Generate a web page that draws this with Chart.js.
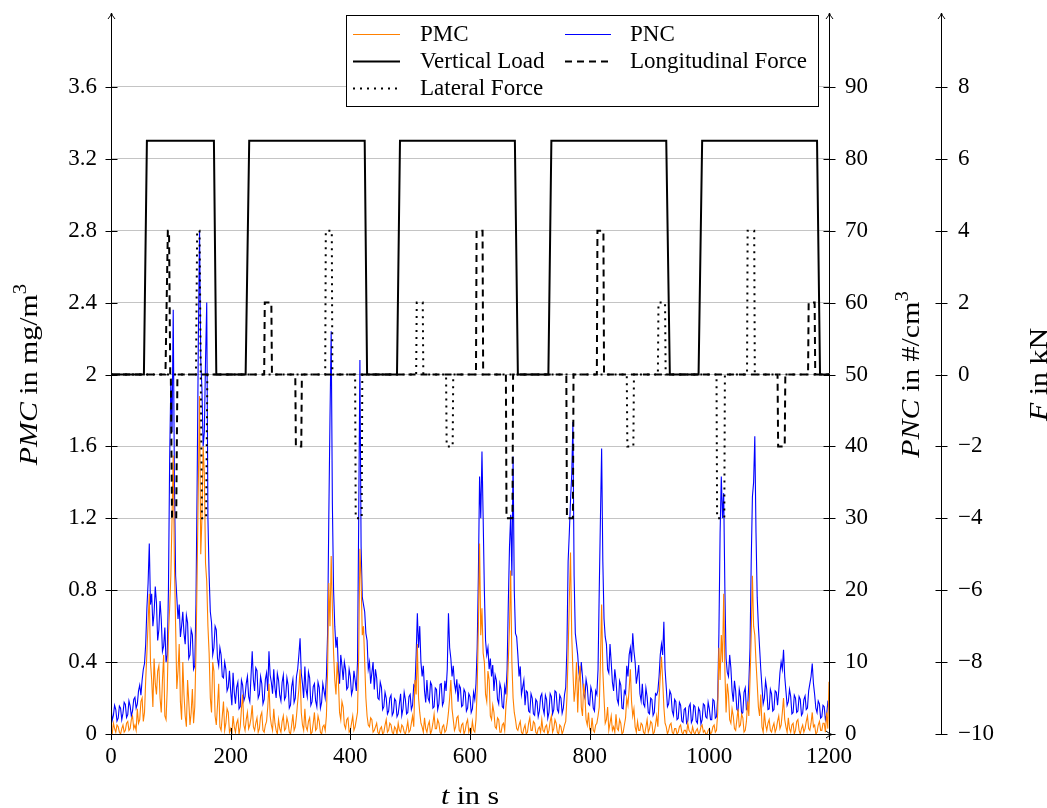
<!DOCTYPE html>
<html>
<head>
<meta charset="utf-8">
<script src="https://cdn.jsdelivr.net/npm/chart.js@4.4.1/dist/chart.umd.min.js"></script>
<style>
  html, body { margin: 0; padding: 0; background: #fff; }
  #wrap { width: 1047px; height: 808px; position: relative; }
</style>
</head>
<body>
<div id="wrap"><canvas id="c" width="1047" height="808"></canvas></div>
<script>
// Sampling interval of the particle measurements (s)
const STEP = 2;

// Particle mass concentration, mg/m^3, one value every STEP seconds from t = 0 (40 s per row)
const pmc = [
  0.02, 0.00, 0.06, 0.03, 0.01, 0.05, 0.04, 0.01, 0.00, 0.03, 0.05, 0.01, 0.02, 0.06, 0.07, 0.02, 0.03, 0.08, 0.10, 0.03,
  0.05, 0.02, 0.14, 0.06, 0.08, 0.18, 0.20, 0.07, 0.12, 0.30, 0.45, 0.62, 0.78, 0.40, 0.30, 0.15, 0.42, 0.28, 0.22, 0.35,
  0.38, 0.20, 0.12, 0.30, 0.44, 0.10, 0.08, 0.25, 0.55, 0.70, 0.88, 1.20, 1.55, 0.95, 0.60, 0.25, 0.35, 0.50, 0.18, 0.08,
  0.40, 0.22, 0.10, 0.04, 0.30, 0.18, 0.05, 0.12, 0.25, 0.06, 0.15, 0.45, 0.90, 1.40, 1.88, 1.00, 1.20, 1.60, 1.45, 0.95,
  0.85, 0.60, 0.45, 0.20, 0.12, 0.40, 0.35, 0.10, 0.05, 0.16, 0.28, 0.04, 0.02, 0.10, 0.18, 0.02, 0.06, 0.14, 0.12, 0.01,
  0.03, 0.00, 0.10, 0.04, 0.01, 0.06, 0.08, 0.00, 0.04, 0.14, 0.22, 0.05, 0.02, 0.08, 0.12, 0.03, 0.05, 0.09, 0.16, 0.04,
  0.02, 0.06, 0.09, 0.01, 0.03, 0.10, 0.12, 0.02, 0.01, 0.05, 0.07, 0.15, 0.28, 0.10, 0.05, 0.02, 0.14, 0.06, 0.02, 0.00,
  0.08, 0.03, 0.01, 0.07, 0.10, 0.02, 0.03, 0.09, 0.06, 0.01, 0.00, 0.05, 0.11, 0.02, 0.04, 0.10, 0.18, 0.25, 0.36, 0.12,
  0.05, 0.02, 0.14, 0.04, 0.02, 0.07, 0.09, 0.00, 0.01, 0.06, 0.12, 0.02, 0.03, 0.10, 0.07, 0.01, 0.00, 0.04, 0.05, 0.02,
  0.10, 0.35, 0.84, 0.60, 0.99, 0.70, 0.45, 0.30, 0.22, 0.40, 0.30, 0.12, 0.08, 0.18, 0.15, 0.05, 0.03, 0.08, 0.09, 0.01,
  0.02, 0.06, 0.10, 0.02, 0.04, 0.08, 0.12, 0.45, 1.03, 0.86, 0.55, 0.60, 0.40, 0.20, 0.10, 0.05, 0.04, 0.09, 0.08, 0.01,
  0.02, 0.04, 0.06, 0.01, 0.00, 0.03, 0.04, 0.00, 0.01, 0.05, 0.08, 0.01, 0.02, 0.06, 0.05, 0.01, 0.00, 0.04, 0.03, 0.00,
  0.06, 0.02, 0.01, 0.05, 0.04, 0.01, 0.00, 0.03, 0.07, 0.01, 0.02, 0.06, 0.10, 0.04, 0.30, 0.22, 0.50, 0.20, 0.12, 0.06,
  0.04, 0.01, 0.09, 0.03, 0.01, 0.05, 0.07, 0.00, 0.02, 0.06, 0.11, 0.03, 0.03, 0.08, 0.06, 0.01, 0.00, 0.04, 0.05, 0.01,
  0.02, 0.06, 0.12, 0.20, 0.30, 0.14, 0.08, 0.02, 0.04, 0.09, 0.10, 0.02, 0.01, 0.05, 0.06, 0.00, 0.02, 0.06, 0.08, 0.01,
  0.03, 0.01, 0.07, 0.02, 0.01, 0.08, 0.25, 0.60, 1.06, 0.55, 0.70, 0.45, 0.40, 0.22, 0.18, 0.35, 0.30, 0.10, 0.08, 0.16,
  0.12, 0.04, 0.03, 0.09, 0.08, 0.01, 0.01, 0.05, 0.06, 0.02, 0.15, 0.22, 0.40, 0.60, 0.91, 0.40, 0.20, 0.12, 0.08, 0.03,
  0.02, 0.05, 0.07, 0.01, 0.00, 0.03, 0.05, 0.00, 0.01, 0.06, 0.09, 0.02, 0.02, 0.07, 0.06, 0.01, 0.00, 0.03, 0.04, 0.01,
  0.08, 0.02, 0.01, 0.04, 0.05, 0.00, 0.02, 0.07, 0.10, 0.01, 0.03, 0.08, 0.06, 0.01, 0.00, 0.05, 0.04, 0.00, 0.02, 0.05,
  0.07, 0.20, 0.45, 0.75, 1.01, 0.55, 0.35, 0.18, 0.25, 0.40, 0.12, 0.30, 0.38, 0.15, 0.10, 0.28, 0.22, 0.08, 0.05, 0.12,
  0.03, 0.01, 0.09, 0.02, 0.01, 0.05, 0.06, 0.10, 0.15, 0.40, 0.72, 0.35, 0.20, 0.06, 0.08, 0.15, 0.02, 0.06, 0.10, 0.02,
  0.04, 0.01, 0.11, 0.03, 0.02, 0.08, 0.06, 0.00, 0.01, 0.05, 0.09, 0.20, 0.16, 0.25, 0.36, 0.18, 0.10, 0.14, 0.04, 0.01,
  0.07, 0.02, 0.02, 0.06, 0.05, 0.01, 0.00, 0.04, 0.08, 0.01, 0.03, 0.07, 0.06, 0.00, 0.01, 0.05, 0.10, 0.04, 0.20, 0.32,
  0.43, 0.30, 0.15, 0.06, 0.04, 0.00, 0.02, 0.05, 0.06, 0.01, 0.00, 0.03, 0.03, 0.00, 0.01, 0.04, 0.05, 0.01, 0.00, 0.02,
  0.02, 0.00, 0.06, 0.02, 0.01, 0.00, 0.04, 0.01, 0.00, 0.02, 0.03, 0.00, 0.01, 0.04, 0.05, 0.01, 0.02, 0.00, 0.00, 0.02,
  0.03, 0.00, 0.01, 0.04, 0.05, 0.01, 0.02, 0.12, 0.48, 0.30, 0.55, 0.40, 0.78, 0.35, 0.12, 0.28, 0.22, 0.08, 0.06, 0.14,
  0.10, 0.03, 0.02, 0.08, 0.14, 0.04, 0.05, 0.11, 0.09, 0.01, 0.02, 0.07, 0.18, 0.10, 0.30, 0.55, 0.88, 0.60, 0.55, 0.40,
  0.28, 0.15, 0.10, 0.22, 0.04, 0.01, 0.12, 0.05, 0.02, 0.06, 0.08, 0.02, 0.01, 0.04, 0.06, 0.01, 0.03, 0.07, 0.10, 0.03,
  0.05, 0.12, 0.20, 0.08, 0.04, 0.01, 0.09, 0.03, 0.01, 0.05, 0.06, 0.00, 0.02, 0.07, 0.08, 0.02, 0.00, 0.03, 0.05, 0.01,
  0.03, 0.07, 0.10, 0.03, 0.02, 0.06, 0.12, 0.04, 0.05, 0.00, 0.01, 0.05, 0.07, 0.02, 0.02, 0.06, 0.06, 0.01, 0.12, 0.03,
  0.29
];

// Particle number concentration, #/cm^3, same time base
const pnc = [
  3.8, 1.9, 2.6, 4.0, 3.4, 1.8, 2.2, 3.9, 3.6, 2.0, 2.9, 4.4, 4.1, 2.3, 2.7, 4.6, 3.9, 2.5, 3.2, 4.8,
  5.1, 3.6, 4.2, 6.0, 6.8, 5.4, 7.5, 9.0, 9.8, 12.5, 17.5, 21.0, 26.5, 18.0, 19.5, 15.0, 16.8, 20.5, 18.2, 13.0,
  14.5, 18.5, 16.0, 11.5, 12.2, 14.8, 10.0, 11.0, 20.0, 38.0, 49.0, 42.0, 59.0, 35.0, 22.0, 19.0, 16.0, 18.0, 13.5, 15.0,
  17.0, 14.0, 12.5, 16.5, 15.5, 10.5, 11.0, 14.5, 13.8, 9.0, 9.5, 18.0, 35.0, 55.0, 70.0, 52.0, 48.0, 40.0, 42.0, 52.0,
  60.0, 30.0, 22.0, 17.0, 15.5, 11.0, 12.0, 15.0, 14.5, 10.5, 9.5, 12.0, 11.0, 8.0, 7.8, 10.0, 9.0, 6.0, 6.5, 8.8,
  6.0, 4.0, 8.5, 5.8, 4.2, 6.5, 7.2, 3.5, 3.8, 7.5, 6.8, 4.6, 5.2, 7.0, 8.0, 5.2, 4.5, 8.0, 11.5, 7.5,
  6.0, 9.2, 8.8, 5.0, 5.5, 8.0, 7.0, 4.2, 4.8, 7.6, 8.5, 6.0, 11.5, 8.2, 7.2, 5.6, 9.0, 6.4, 5.0, 8.4,
  7.5, 5.4, 4.6, 7.2, 8.2, 4.8, 5.2, 7.8, 6.8, 3.6, 4.0, 6.6, 7.6, 4.4, 5.0, 8.0, 9.0, 11.0, 13.3, 8.5,
  7.0, 5.0, 9.4, 6.2, 5.2, 8.6, 7.8, 4.0, 4.5, 6.6, 7.0, 4.6, 3.8, 7.2, 6.5, 3.6, 4.4, 7.0, 6.0, 5.0,
  8.0, 14.0, 30.0, 44.0, 56.0, 32.0, 20.0, 15.0, 12.0, 13.5, 9.0, 7.0, 11.0, 9.5, 7.5, 10.0, 9.0, 6.2, 6.5, 9.0,
  8.0, 5.5, 6.2, 8.8, 7.5, 6.0, 10.0, 30.0, 52.0, 26.0, 19.0, 18.0, 17.0, 14.0, 13.0, 9.0, 10.0, 7.0, 8.5, 10.0,
  6.2, 9.0, 7.8, 5.0, 4.8, 7.2, 6.5, 3.4, 3.8, 5.8, 5.0, 2.8, 3.2, 5.0, 5.4, 2.6, 3.0, 4.9, 4.6, 2.4,
  2.8, 4.2, 5.6, 2.6, 3.5, 5.8, 4.8, 2.8, 3.0, 5.2, 5.5, 3.4, 4.0, 6.8, 6.5, 11.0, 16.8, 12.0, 15.0, 10.0,
  8.0, 9.5, 6.0, 4.4, 7.5, 5.0, 4.5, 7.2, 6.8, 3.6, 3.8, 6.4, 6.2, 3.4, 4.2, 6.9, 7.0, 4.0, 4.5, 7.4,
  6.0, 9.0, 16.8, 12.0, 10.5, 8.0, 9.5, 7.0, 6.0, 7.6, 4.5, 6.8, 6.4, 3.8, 4.0, 6.2, 5.8, 3.2, 3.6, 5.6,
  5.2, 3.0, 3.5, 5.8, 4.8, 7.0, 12.0, 22.0, 35.8, 30.0, 39.3, 30.0, 20.0, 13.0, 11.0, 12.0, 9.0, 10.5, 8.0, 9.6,
  6.0, 8.2, 7.5, 4.8, 4.2, 7.0, 6.2, 3.8, 3.6, 6.6, 5.5, 9.0, 18.0, 26.0, 30.5, 22.0, 38.6, 20.0, 14.0, 13.5,
  11.0, 8.0, 9.4, 5.5, 6.5, 7.5, 4.0, 6.0, 5.8, 3.2, 3.0, 5.6, 5.0, 2.8, 2.6, 4.8, 4.5, 2.4, 3.2, 5.2,
  5.6, 3.6, 2.8, 5.4, 4.8, 2.2, 3.0, 5.6, 5.2, 2.8, 3.4, 6.0, 5.8, 3.4, 3.0, 5.4, 5.0, 2.9, 3.6, 5.5,
  6.5, 12.0, 24.0, 28.0, 32.5, 36.0, 43.4, 22.0, 14.0, 12.5, 11.0, 8.5, 7.5, 10.0, 8.0, 5.5, 5.0, 7.6, 6.6, 4.2,
  4.0, 6.5, 5.8, 3.6, 3.2, 6.0, 5.5, 9.0, 20.0, 30.0, 39.7, 24.0, 16.0, 13.5, 12.5, 9.0, 8.5, 12.5, 10.0, 7.2,
  6.0, 9.0, 7.5, 4.8, 4.2, 7.4, 6.8, 3.6, 3.5, 6.0, 5.6, 9.5, 8.0, 11.0, 12.0, 10.0, 14.0, 11.5, 10.0, 7.0,
  8.2, 9.6, 5.6, 4.6, 7.0, 4.2, 3.8, 6.4, 5.2, 3.0, 2.8, 5.0, 4.8, 2.6, 3.0, 5.6, 5.4, 6.0, 8.0, 11.0,
  12.5, 11.0, 15.6, 9.0, 6.5, 3.8, 4.2, 6.0, 5.5, 3.2, 2.6, 4.8, 4.5, 2.0, 2.2, 4.4, 4.0, 1.8, 1.6, 3.4,
  3.6, 1.5, 1.8, 3.8, 4.2, 1.6, 2.0, 4.0, 3.8, 1.8, 1.5, 3.6, 3.2, 1.4, 2.0, 4.2, 4.0, 2.4, 2.2, 4.4,
  3.5, 2.0, 2.0, 4.8, 4.6, 2.2, 2.4, 5.0, 14.0, 28.0, 35.8, 30.0, 33.5, 20.0, 10.5, 8.6, 8.0, 11.0, 9.2, 6.0,
  4.5, 7.4, 6.0, 3.4, 3.2, 6.2, 5.2, 2.8, 3.0, 5.8, 6.4, 3.4, 3.6, 7.0, 12.0, 24.0, 33.0, 35.0, 41.4, 28.0,
  19.0, 15.0, 12.0, 9.0, 6.5, 4.2, 5.0, 7.4, 6.2, 3.4, 3.5, 6.2, 5.6, 3.2, 3.4, 6.0, 5.8, 4.0, 6.0, 8.5,
  10.0, 9.0, 11.7, 8.0, 6.0, 4.0, 4.5, 6.2, 5.2, 2.8, 3.0, 5.4, 5.0, 3.0, 3.2, 5.2, 4.8, 2.6, 2.9, 4.8,
  5.3, 3.4, 3.6, 6.0, 7.0, 8.0, 9.8, 7.0, 5.5, 3.6, 3.0, 4.6, 4.2, 2.2, 2.4, 4.0, 3.8, 2.0, 2.6, 4.4,
  4.0
];

// Vertical load profile (breakpoints): time in s, force in kN
const loadT = [0, 55, 60, 172, 176, 225, 231, 424, 428, 478, 483, 675, 680, 731, 736, 928, 934, 982, 988, 1180, 1185, 1200];
const loadF = [0, 0, 6.5, 6.5, 0, 0, 6.5, 6.5, 0, 0, 6.5, 6.5, 0, 0, 6.5, 6.5, 0, 0, 6.5, 6.5, 0, 0];

// Longitudinal force profile (breakpoints)
const longT = [0, 91, 95, 97, 99, 100, 102, 109, 111,
  256, 257, 268, 269, 308, 309, 318, 319,
  610, 611, 621, 622, 660, 661, 671, 672,
  761, 762, 772, 773, 812, 813, 823, 824,
  1114, 1115, 1126, 1127, 1165, 1166, 1176, 1177, 1200];
const longF = [0, 0, 4, 4, 0, 0, -4, -4, 0,
  0, 2, 2, 0, 0, -2, -2, 0,
  0, 4, 4, 0, 0, -4, -4, 0,
  0, -4, -4, 0, 0, 4, 4, 0,
  0, -2, -2, 0, 0, 2, 2, 0, 0];

// Lateral force profile (breakpoints)
const latT = [0, 142, 144, 148, 150, 152, 159, 161,
  358, 359, 369, 370, 408, 409, 419, 420,
  510, 511, 521, 522, 560, 561, 571, 572,
  862, 863, 873, 874, 914, 915, 926, 927,
  1012, 1013, 1025, 1026, 1063, 1064, 1075, 1076, 1200];
const latF = [0, 0, 4, 4, 0, -4, -4, 0,
  0, 4, 4, 0, 0, -4, -4, 0,
  0, 2, 2, 0, 0, -2, -2, 0,
  0, -2, -2, 0, 0, 2, 2, 0,
  0, -4, -4, 0, 0, 4, 4, 0, 0];

// Axis ranges and tick spacing
const xRange = [0, 1200], xStep = 200;
const pmcRange = [0, 4], pmcStep = 0.4;
const pncRange = [0, 100], pncStep = 10;
const fRange = [-10, 10], fStep = 2;

const FONT = '"Liberation Serif", "Times New Roman", serif';
const FS = 23;      // tick labels and legend
const TFS = 26;     // axis titles
const TSTRETCH = 1.15;

const series = (vals) => vals.map((v, i) => ({ x: i * STEP, y: v }));
const pairs = (ts, vs) => ts.map((t, i) => ({ x: t, y: vs[i] }));

Chart.defaults.font.family = FONT;
Chart.defaults.font.size = FS;
Chart.defaults.color = '#000';

const dsPMC = { label: 'PMC', data: series(pmc), yAxisID: 'y', borderColor: '#ff8000', borderWidth: 1.1, order: 3 };
const dsPNC = { label: 'PNC', data: series(pnc), yAxisID: 'yPNC', borderColor: '#0000ff', borderWidth: 1.1, order: 4 };
const dsLoad = { label: 'Vertical Load', data: pairs(loadT, loadF), yAxisID: 'yF', borderColor: '#000', borderWidth: 2, order: 2 };
const dsLong = { label: 'Longitudinal Force', data: pairs(longT, longF), yAxisID: 'yF', borderColor: '#000', borderWidth: 2, borderDash: [7, 5], order: 1 };
const dsLat = { label: 'Lateral Force', data: pairs(latT, latF), yAxisID: 'yF', borderColor: '#000', borderWidth: 2, borderDash: [2, 5], order: 0 };

[dsPMC, dsPNC, dsLoad, dsLong, dsLat].forEach(d => {
  d.pointRadius = 0; d.tension = 0; d.fill = false; d.borderJoinStyle = 'miter';
});

const dropTop = (scale) => {
  scale.ticks = scale.ticks.filter(t => t.value < scale.max - 1e-9);
};
const fmt = (v) => String(parseFloat(v.toFixed(1)));

// Draws a title made of differently styled pieces, centred on (cx, cy)
function richText(ctx, parts, cx, cy, angle, stretch) {
  ctx.save();
  ctx.translate(cx, cy);
  ctx.rotate(angle);
  ctx.scale(stretch, 1);
  let w = 0;
  parts.forEach(p => { ctx.font = p.font; p.w = ctx.measureText(p.t).width; w += p.w; });
  let x = -w / 2;
  ctx.textBaseline = 'middle';
  ctx.textAlign = 'left';
  ctx.fillStyle = '#000';
  parts.forEach(p => { ctx.font = p.font; ctx.fillText(p.t, x, p.dy || 0); x += p.w; });
  ctx.restore();
}

const it = `italic ${TFS}px ${FONT}`;
const rm = `${TFS}px ${FONT}`;
const sup = `18px ${FONT}`;
const legendFont = `${FS}px ${FONT}`;

const framePlugin = {
  id: 'frame',
  afterDraw(chart) {
    const { ctx, chartArea: a, scales } = chart;
    const X = v => Math.round(v) + 0.5;
    const top = a.top - 2;
    ctx.save();
    ctx.strokeStyle = '#000';
    ctx.lineWidth = 1;

    const seg = (x1, y1, x2, y2) => { ctx.beginPath(); ctx.moveTo(x1, y1); ctx.lineTo(x2, y2); ctx.stroke(); };
    const arrowUp = (x, y) => {
      ctx.beginPath();
      ctx.moveTo(x - 3.5, y + 6); ctx.quadraticCurveTo(x - 0.5, y + 2.5, x, y);
      ctx.quadraticCurveTo(x + 0.5, y + 2.5, x + 3.5, y + 6);
      ctx.stroke();
    };
    const arrowRight = (x, y) => {
      ctx.beginPath();
      ctx.moveTo(x - 6, y - 3.5); ctx.quadraticCurveTo(x - 2.5, y - 0.5, x, y);
      ctx.quadraticCurveTo(x - 2.5, y + 0.5, x - 6, y + 3.5);
      ctx.stroke();
    };

    const axesX = [a.left, a.right, scales.yF.left];
    const yb = X(a.bottom) - 0.5;

    // vertical axes with arrow tips
    axesX.forEach(x => { seg(X(x), a.bottom, X(x), top); arrowUp(X(x), top); });
    // time axis
    seg(a.left, X(a.bottom), a.right + 3, X(a.bottom));
    arrowRight(a.right + 3, X(a.bottom));

    // tick marks crossing each vertical axis
    scales.y.ticks.forEach(t => {
      const y = X(scales.y.getPixelForValue(t.value));
      axesX.forEach(x => seg(X(x) - 6, y, X(x) + 6, y));
    });
    // tick marks on the time axis
    scales.x.ticks.forEach(t => {
      const x = X(scales.x.getPixelForValue(t.value));
      seg(x, yb - 6, x, yb + 6);
    });

    // axis titles
    const cy = (a.top + a.bottom) / 2;
    richText(ctx, [{ t: 'PMC', font: it }, { t: ' in mg/m', font: rm }, { t: '3', font: sup, dy: -9 }], 30, cy, -Math.PI / 2, TSTRETCH);
    richText(ctx, [{ t: 'PNC', font: it }, { t: ' in #/cm', font: rm }, { t: '3', font: sup, dy: -9 }], 912, cy, -Math.PI / 2, TSTRETCH);
    richText(ctx, [{ t: 'F', font: it }, { t: ' in kN', font: rm }], 1040, cy, -Math.PI / 2, TSTRETCH);
    richText(ctx, [{ t: 't', font: it }, { t: ' in s', font: rm }], (a.left + a.right) / 2, 797, 0, TSTRETCH);

    // legend
    const bx = 346, by = 15, bw = 472, bh = 91;
    ctx.fillStyle = '#fff';
    ctx.fillRect(bx, by, bw, bh);
    ctx.strokeStyle = '#000';
    ctx.lineWidth = 1;
    ctx.setLineDash([]);
    ctx.strokeRect(bx + 0.5, by + 0.5, bw, bh);
    const items = [
      [dsPMC, 0, 0], [dsPNC, 1, 0],
      [dsLoad, 0, 1], [dsLong, 1, 1],
      [dsLat, 0, 2]
    ];
    const colLine = [[353, 400], [565, 611]];
    const colText = [420, 630];
    const rowY = [34, 61, 88];
    ctx.font = legendFont;
    ctx.textBaseline = 'middle';
    ctx.textAlign = 'left';
    items.forEach(([d, c, r]) => {
      const y = rowY[r];
      ctx.save();
      ctx.strokeStyle = d.borderColor;
      ctx.lineWidth = d.borderWidth;
      ctx.setLineDash(d.borderDash || []);
      ctx.beginPath();
      ctx.moveTo(colLine[c][0], y + 0.5);
      ctx.lineTo(colLine[c][1], y + 0.5);
      ctx.stroke();
      ctx.restore();
      ctx.fillStyle = '#000';
      ctx.fillText(d.label, colText[c], y + 1);
    });
    ctx.restore();
  }
};

new Chart(document.getElementById('c'), {
  type: 'line',
  data: { datasets: [dsPMC, dsPNC, dsLoad, dsLong, dsLat] },
  options: {
    responsive: false,
    animation: false,
    devicePixelRatio: 1,
    events: [],
    layout: { padding: { top: 15, left: 0, right: 0, bottom: 0 } },
    plugins: { legend: { display: false }, tooltip: { enabled: false } },
    scales: {
      x: {
        type: 'linear', position: 'bottom',
        min: xRange[0], max: xRange[1],
        grid: { display: false, drawTicks: false },
        border: { display: false },
        ticks: { stepSize: xStep, padding: 9, maxRotation: 0, autoSkip: false, callback: v => String(v) },
        afterFit: s => { s.height = 74; s.paddingLeft = 0; s.paddingRight = 0; }
      },
      y: {
        type: 'linear', position: 'left',
        min: pmcRange[0], max: pmcRange[1],
        grid: { color: '#c4c4c4', lineWidth: 1, drawTicks: false },
        border: { display: false },
        ticks: { stepSize: pmcStep, padding: 14, autoSkip: false, callback: v => fmt(v) },
        afterBuildTicks: dropTop,
        afterFit: s => { s.width = 111; s.paddingTop = 0; s.paddingBottom = 0; }
      },
      yPNC: {
        type: 'linear', position: 'right', weight: 0,
        min: pncRange[0], max: pncRange[1],
        grid: { display: false, drawTicks: false },
        border: { display: false },
        ticks: { stepSize: pncStep, padding: 16, autoSkip: false, callback: v => String(v) },
        afterBuildTicks: dropTop,
        afterFit: s => { s.width = 112; s.paddingTop = 0; s.paddingBottom = 0; }
      },
      yF: {
        type: 'linear', position: 'right', weight: 1,
        min: fRange[0], max: fRange[1],
        grid: { display: false, drawTicks: false },
        border: { display: false },
        ticks: { stepSize: fStep, padding: 17, autoSkip: false, callback: v => (v < 0 ? '\u2212' + Math.abs(v) : String(v)) },
        afterBuildTicks: dropTop,
        afterFit: s => { s.width = 106; s.paddingTop = 0; s.paddingBottom = 0; }
      }
    }
  },
  plugins: [framePlugin]
});
</script>
</body>
</html>
